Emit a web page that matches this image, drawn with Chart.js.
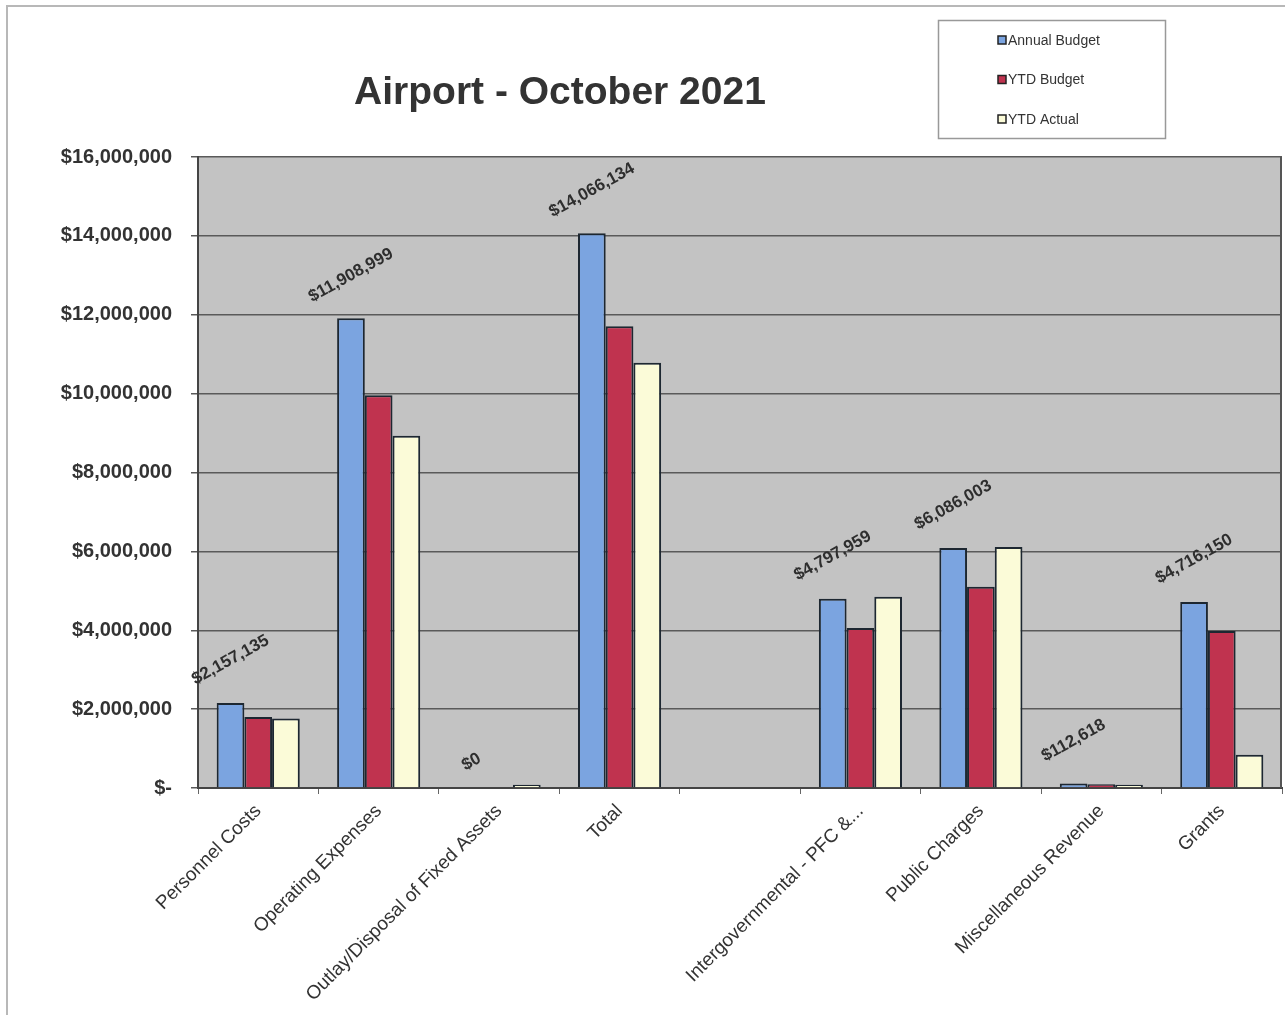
<!DOCTYPE html>
<html>
<head>
<meta charset="utf-8">
<script src="https://cdn.jsdelivr.net/npm/chart.js@4/dist/chart.umd.min.js"></script>
<style>
html,body{margin:0;padding:0;background:#fff;}
#wrap{position:relative;width:1285px;height:1015px;}
</style>
</head>
<body>
<div id="wrap"><canvas id="c" width="1285" height="1015"></canvas></div>
<script>
const categories = ["Personnel Costs","Operating Expenses","Outlay/Disposal of Fixed Assets","Total","","Intergovernmental - PFC &...","Public Charges","Miscellaneous Revenue","Grants"];
const annualBudget = [2157135, 11908999, 0, 14066134, null, 4797959, 6086003, 112618, 4716150];
const ytdBudget    = [1798000, 9960000, 0, 11710000, null, 4060000, 5100000, 94000, 3980000];
const ytdActual    = [1760000, 8930000, 80000, 10780000, null, 4850000, 6110000, 85000, 840000];
const annualLabels = ["$2,157,135","$11,908,999","$0","$14,066,134","","$4,797,959","$6,086,003","$112,618","$4,716,150"];
const yTickValues  = [0,2000000,4000000,6000000,8000000,10000000,12000000,14000000,16000000];
const yTickLabels  = ["$-","$2,000,000","$4,000,000","$6,000,000","$8,000,000","$10,000,000","$12,000,000","$14,000,000","$16,000,000"];
const seriesNames  = ["Annual Budget","YTD Budget","YTD Actual"];
const titleText = "Airport - October 2021";

const FONT = "'Liberation Sans', Arial, sans-serif";

const framePlugin = {
  id:'frame',
  beforeDraw(chart){
    const {ctx, chartArea:a} = chart;
    ctx.save();
    ctx.fillStyle='#fff';
    ctx.fillRect(0,0,chart.width,chart.height);
    ctx.strokeStyle='#b8b8b8';
    ctx.lineWidth=2;
    ctx.strokeRect(7,6,1290,1020);
    ctx.fillStyle='#c3c3c3';
    ctx.fillRect(a.left,a.top,a.right-a.left,a.bottom-a.top);
    ctx.restore();
  },
  afterDatasetsDraw(chart){
    const {ctx, chartArea:a} = chart;
    ctx.save();
    ctx.strokeStyle='#555';
    ctx.lineWidth=2;
    ctx.beginPath();
    ctx.moveTo(a.right-1,a.top);ctx.lineTo(a.right-1,a.bottom);
    ctx.stroke();
    // annual labels
    const meta = chart.getDatasetMeta(0);
    ctx.font = "bold 17px "+FONT;
    ctx.fillStyle='#2e2e2e';
    ctx.textAlign='center';
    ctx.textBaseline='middle';
    meta.data.forEach((bar,i)=>{
      const t = annualLabels[i];
      if(!t) return;
      const off = annualBudget[i] === 0 ? 26 : 43;
      ctx.save();
      ctx.translate(bar.x, bar.y - off);
      ctx.rotate(-29*Math.PI/180);
      ctx.fillText(t,0,0);
      ctx.restore();
    });
    // title
    ctx.font = "bold 39px "+FONT;
    ctx.fillStyle='#333';
    ctx.textAlign='center';
    ctx.fillText(titleText, 560, 93);
    // legend
    ctx.fillStyle='#fff';
    ctx.fillRect(938,20,227,118);
    ctx.strokeStyle='#999';
    ctx.lineWidth=1.5;
    ctx.strokeRect(938.5,20.5,227,118);
    ctx.font = "14px "+FONT;
    ctx.textAlign='left';
    chart.data.datasets.forEach((ds,i)=>{
      const y = 40 + i*39.5;
      ctx.fillStyle = ds.backgroundColor;
      ctx.fillRect(998,y-4,8,8);
      ctx.strokeStyle='#222';
      ctx.lineWidth=1.5;
      ctx.strokeRect(998,y-4,8,8);
      ctx.fillStyle='#333';
      ctx.fillText(ds.label, 1008, y+1);
    });
    ctx.restore();
  }
};

new Chart(document.getElementById('c'), {
  type:'bar',
  data:{
    labels:categories,
    datasets:[
      {label:seriesNames[0], data:annualBudget, backgroundColor:'#7ba4e0', borderColor:'#1d2731', borderWidth:2},
      {label:seriesNames[1], data:ytdBudget, backgroundColor:'#c0334f', borderColor:'#1d2731', borderWidth:2},
      {label:seriesNames[2], data:ytdActual, backgroundColor:'#fbfbd8', borderColor:'#1d2731', borderWidth:2}
    ]
  },
  options:{
    responsive:false,
    animation:false,
    layout:{padding:{top:157,right:3,left:0,bottom:0}},
    datasets:{bar:{categoryPercentage:0.69,barPercentage:1.0}},
    plugins:{legend:{display:false},title:{display:false},tooltip:{enabled:false}},
    scales:{
      x:{
        grid:{display:true,drawOnChartArea:false,drawTicks:true,tickLength:6,color:'#666',offset:true},
        border:{display:true,color:'#444',width:2},
        ticks:{color:'#333',font:{family:FONT,size:19},maxRotation:45,minRotation:45,autoSkip:false,padding:6},
        afterFit(s){s.height=227;}
      },
      y:{
        min:0,max:16000000,
        afterBuildTicks(s){s.ticks = yTickValues.map(v=>({value:v}));},
        grid:{color:'#5a5a5a',lineWidth:1.5,tickLength:7,drawTicks:true},
        border:{display:true,color:'#444',width:2},
        ticks:{color:'#333',font:{family:FONT,size:20,weight:'bold'},padding:19,
          callback(v){const i=yTickValues.indexOf(v);return i>=0?yTickLabels[i]:'';}},
        afterFit(s){s.width=198;}
      }
    }
  },
  plugins:[framePlugin]
});
</script>
</body>
</html>
